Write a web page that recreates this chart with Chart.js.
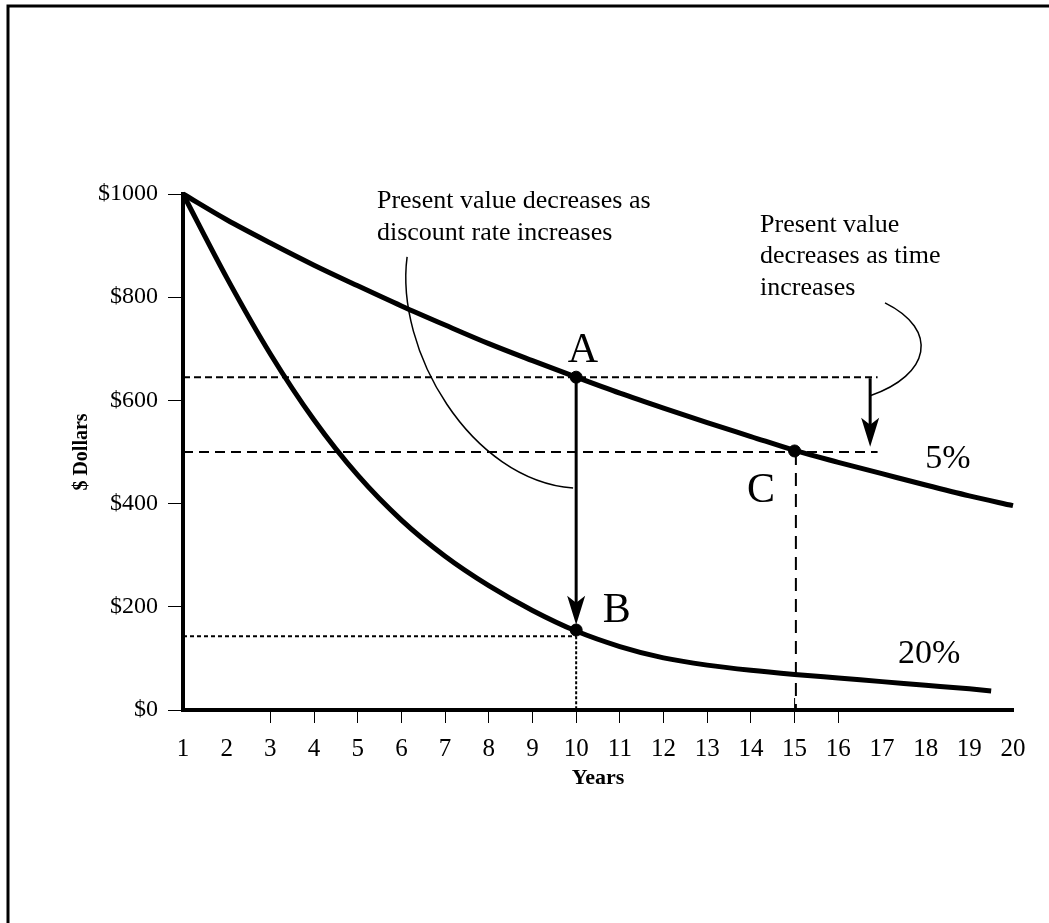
<!DOCTYPE html>
<html>
<head>
<meta charset="utf-8">
<script src="https://cdn.jsdelivr.net/npm/chart.js@4"></script>
<style>
  body { margin: 0; background: #fff; }
  canvas { display: block; }
</style>
</head>
<body>
<canvas id="pvChart" width="1049" height="923"></canvas>
<script>
// DATA
const years = [1, 2, 3, 4, 5, 6, 7, 8, 9, 10, 11, 12, 13, 14, 15, 16, 17, 18, 19, 20];
const pv5 = [1000, 950, 905, 862, 822, 783, 746, 710, 677, 645, 614, 585, 557, 530, 503, 480, 458, 436, 415, 396];
const years20 = [1, 2, 3, 4, 5, 6, 7, 8, 9, 10, 11, 12, 13, 14, 15, 16, 17, 18, 19, 19.5];
const pv20 = [1000, 838, 690, 562, 455, 368, 298, 241, 193, 153, 123, 101, 87, 77, 69, 62, 55, 48, 41, 37];
const yTicks = [0, 200, 400, 600, 800, 1000];

// points A, B, C
const markX = [10, 10, 15];
const markY = [645, 155, 502];

// guide lines (years / dollars)
const lineA = { y: 645, x0: 1, x1: 16.9 };
const lineC = { y: 500, x0: 1, x1: 16.9 };
const lineB = { y: 143, x0: 1, x1: 10 };
const dropB = { x: 10, y0: 143, y1: 0 };
const dropC = { x: 15.03, y0: 500, y1: 0 };

const toXY = (xs, ys) => xs.map((x, i) => ({ x: x, y: ys[i] }));

// ANNOTATIONS (in data units)
const notes = [
  { lines: ["Present value decreases as", "discount rate increases"], x: 5.44, y: [973, 911], size: 26 },
  { lines: ["Present value", "decreases as time", "increases"], x: 14.21, y: [926, 866, 804], size: 26 },
  { lines: ["A"], x: 9.81, y: [674], size: 42 },
  { lines: ["B"], x: 10.61, y: [171], size: 42 },
  { lines: ["C"], x: 13.91, y: [403], size: 42 },
  { lines: ["5%"], x: 17.99, y: [469], size: 34 },
  { lines: ["20%"], x: 17.37, y: [91], size: 34 }
];
const leaders = [
  [[6.13, 878], [5.85, 698], [7.57, 446], [9.93, 430]],
  [[17.07, 789], [18.33, 736], [18.10, 649], [16.73, 609]]
];
const arrows = [
  { x: 10, from: 645, to: 165 },
  { x: 16.73, from: 643, to: 510 }
];

const frame = {
  id: "frame",
  beforeDraw(chart) {
    const c = chart.ctx;
    c.save();
    c.fillStyle = "#fff";
    c.fillRect(0, 0, chart.width, chart.height);
    c.strokeStyle = "#000";
    c.lineWidth = 3;
    c.beginPath();
    c.moveTo(8, chart.height);
    c.lineTo(8, 6);
    c.lineTo(chart.width, 6);
    c.stroke();
    c.restore();
  }
};

const extras = {
  id: "extras",
  afterDraw(chart) {
    const c = chart.ctx;
    const sx = chart.scales.x, sy = chart.scales.y;
    const px = v => sx.getPixelForValue(v);
    const py = v => sy.getPixelForValue(v);
    c.save();
    c.fillStyle = "#000";
    c.strokeStyle = "#000";

    // leader curves
    c.lineWidth = 1.5;
    leaders.forEach(p => {
      c.beginPath();
      c.moveTo(px(p[0][0]), py(p[0][1]));
      c.bezierCurveTo(px(p[1][0]), py(p[1][1]), px(p[2][0]), py(p[2][1]), px(p[3][0]), py(p[3][1]));
      c.stroke();
    });

    // arrows
    arrows.forEach(a => {
      const x = px(a.x), y0 = py(a.from), y1 = py(a.to);
      c.lineWidth = 3;
      c.beginPath();
      c.moveTo(x, y0);
      c.lineTo(x, y1 - 10);
      c.stroke();
      c.beginPath();
      c.moveTo(x, y1);
      c.lineTo(x - 9, y1 - 29);
      c.lineTo(x, y1 - 22);
      c.lineTo(x + 9, y1 - 29);
      c.closePath();
      c.fill();
    });

    // tick at 15 crosses the axis
    c.lineWidth = 1;
    c.beginPath();
    c.moveTo(px(15), sy.bottom - 12);
    c.lineTo(px(15), sy.bottom);
    c.stroke();

    // text
    c.textAlign = "left";
    c.textBaseline = "alphabetic";
    notes.forEach(n => {
      c.font = n.size + "px 'Liberation Serif'";
      n.lines.forEach((t, i) => c.fillText(t, px(n.x), py(n.y[i])));
    });
    c.restore();
  }
};

const guide = (pts, dash, width) => ({
  data: pts, borderColor: "#000", borderWidth: width, borderDash: dash,
  pointRadius: 0, fill: false, tension: 0
});

new Chart(document.getElementById("pvChart"), {
  type: "line",
  data: {
    datasets: [
      guide([{ x: lineA.x0, y: lineA.y }, { x: lineA.x1, y: lineA.y }], [7, 4], 2),
      guide([{ x: lineC.x0, y: lineC.y }, { x: lineC.x1, y: lineC.y }], [10, 6], 2),
      guide([{ x: lineB.x0, y: lineB.y }, { x: lineB.x1, y: lineB.y }], [4, 3], 2),
      guide([{ x: dropB.x, y: dropB.y0 }, { x: dropB.x, y: dropB.y1 }], [3, 2], 2),
      guide([{ x: dropC.x, y: dropC.y0 }, { x: dropC.x, y: dropC.y1 }], [13, 8], 2),
      {
        label: "5%", data: toXY(years, pv5), borderColor: "#000", borderWidth: 5,
        pointRadius: 0, cubicInterpolationMode: "monotone", fill: false
      },
      {
        label: "20%", data: toXY(years20, pv20), borderColor: "#000", borderWidth: 5,
        pointRadius: 0, cubicInterpolationMode: "monotone", fill: false
      },
      {
        label: "points", data: toXY(markX, markY), showLine: false,
        pointRadius: 6, pointBackgroundColor: "#000", pointBorderColor: "#000"
      }
    ]
  },
  options: {
    responsive: false,
    animation: false,
    devicePixelRatio: 1,
    clip: false,
    layout: { padding: { left: 0, right: 36, top: 194, bottom: 0 } },
    plugins: { legend: { display: false }, tooltip: { enabled: false } },
    scales: {
      x: {
        type: "linear", min: 1, max: 20,
        afterFit: s => { s.height = 213; },
        border: { display: true, width: 4, color: "#000" },
        grid: {
          drawOnChartArea: false, tickLength: 13, tickWidth: 1,
          color: "#000",
          tickColor: ctx => (ctx.tick && ctx.tick.value >= 3 && ctx.tick.value <= 16) ? "#000" : "rgba(0,0,0,0)"
        },
        ticks: {
          stepSize: 1, autoSkip: false, maxRotation: 0, padding: 11,
          color: "#000", font: { family: "'Liberation Serif'", size: 25 },
          callback: v => String(v)
        },
        title: {
          display: true, text: "Years", color: "#000",
          font: { family: "'Liberation Serif'", size: 22, weight: "bold" },
          padding: { top: 0, bottom: 131 }
        }
      },
      y: {
        min: 0, max: 1000,
        afterFit: s => { s.width = 183; },
        afterBuildTicks: s => { s.ticks = yTicks.map(v => ({ value: v })); },
        border: { display: true, width: 4, color: "#000" },
        grid: { drawOnChartArea: false, tickLength: 15, tickWidth: 1, color: "#000" },
        ticks: {
          padding: 10, color: "#000",
          font: { family: "'Liberation Serif'", size: 24 },
          callback: v => "$" + v
        },
        title: {
          display: true, text: "$ Dollars", color: "#000",
          font: { family: "'Liberation Serif'", size: 20, weight: "bold" },
          padding: { top: 70, bottom: 0 }
        }
      }
    }
  },
  plugins: [frame, extras]
});
</script>
</body>
</html>
